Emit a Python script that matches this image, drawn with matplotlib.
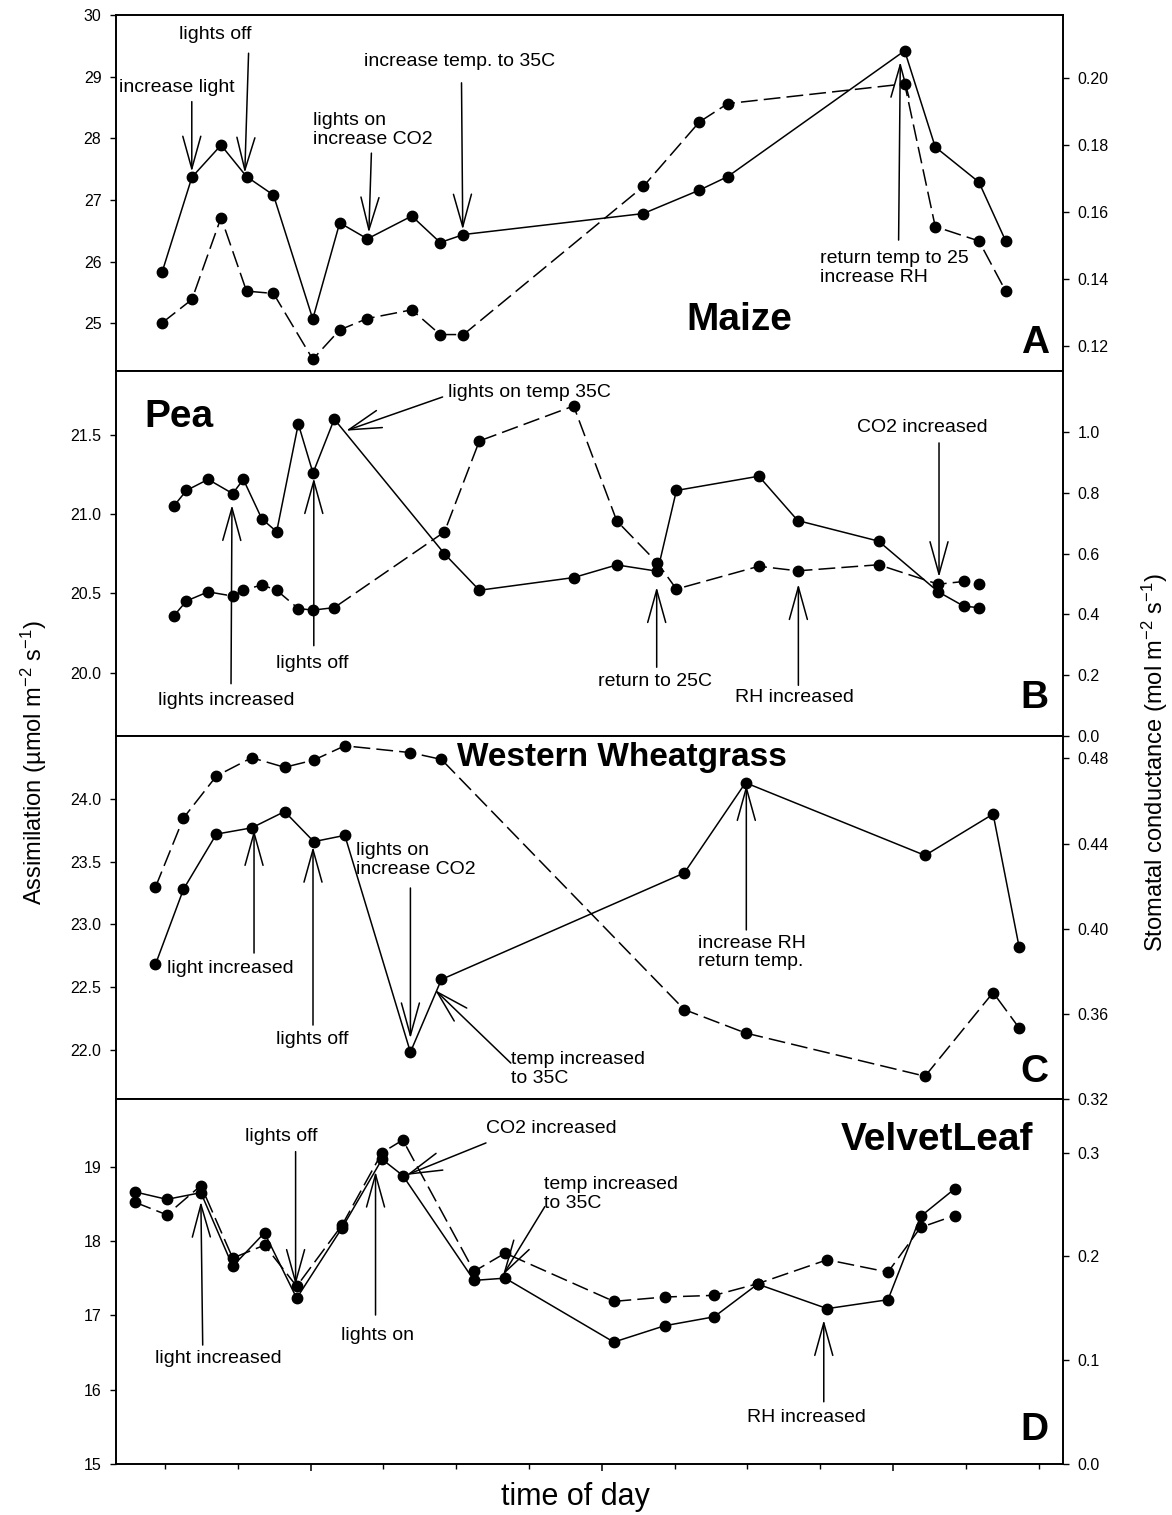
import matplotlib
matplotlib.use('Agg')
import matplotlib.pyplot as plt
from matplotlib.ticker import FixedLocator, NullFormatter, FormatStrFormatter

plt.rcParams['font.family'] = ['Liberation Sans', 'DejaVu Sans']
plt.rcParams['mathtext.fontset'] = 'custom'
plt.rcParams['mathtext.rm'] = 'Liberation Sans'
plt.rcParams['mathtext.it'] = 'Liberation Sans:italic'
plt.rcParams['mathtext.bf'] = 'Liberation Sans:bold'

# ---------------- data (time in arbitrary tick units) ----------------
time_A = [-0.04, 0.37, 0.77, 1.12, 1.49, 2.03, 2.40, 2.78, 3.39, 3.78, 4.10,
          6.57, 7.34, 7.73, 10.16, 10.58, 11.18, 11.55]
assim_A = [25.83, 27.37, 27.89, 27.38, 27.08, 25.07, 26.63, 26.37, 26.74, 26.31, 26.44,
           26.78, 27.16, 27.38, 29.42, 27.86, 27.29, 26.33]
cond_A = [0.1268, 0.1338, 0.1583, 0.1363, 0.1356, 0.1159, 0.1247, 0.1281, 0.1307, 0.1233, 0.1233,
          0.1676, 0.1869, 0.1924, 0.1983, 0.1556, 0.1513, 0.1362]

time_B = [0.118, 0.295, 0.592, 0.930, 1.076, 1.331, 1.534, 1.831, 2.033, 2.325, 3.839,
          4.318, 5.613, 6.206, 6.765, 7.025, 8.157, 8.691, 9.802, 10.622, 10.970, 11.177]
assim_B = [21.05, 21.15, 21.22, 21.13, 21.22, 20.97, 20.89, 21.57, 21.26, 21.60, 20.75,
           20.52, 20.60, 20.68, 20.64, 21.15, 21.24, 20.96, 20.83, 20.51, 20.42, 20.41]
cond_B = [0.394, 0.444, 0.474, 0.460, 0.479, 0.497, 0.479, 0.419, 0.414, 0.422, 0.671,
          0.970, 1.085, 0.707, 0.569, 0.483, 0.558, 0.543, 0.563, 0.499, 0.508, 0.499]

time_C = [-0.131, 0.254, 0.706, 1.191, 1.643, 2.044, 2.470, 3.371, 3.797,
          7.133, 7.974, 10.44, 11.375, 11.732]
assim_C = [22.68, 23.28, 23.72, 23.77, 23.90, 23.66, 23.71, 21.98, 22.56,
           23.41, 24.13, 23.55, 23.88, 22.82]
cond_C = [0.4195, 0.452, 0.4717, 0.4803, 0.4758, 0.4792, 0.4859, 0.4827, 0.4795,
          0.362, 0.351, 0.3307, 0.370, 0.3534]

time_D = [-0.412, 0.025, 0.493, 0.930, 1.367, 1.809, 2.434, 2.981, 3.267, 4.245, 4.672,
          6.165, 6.864, 7.544, 8.140, 9.096, 9.931, 10.378, 10.845]
assim_D = [18.66, 18.56, 18.65, 17.66, 18.11, 17.23, 18.18, 19.10, 18.88, 17.47, 17.50,
           16.64, 16.86, 16.98, 17.42, 17.09, 17.21, 18.33, 18.70]
cond_D = [0.2522, 0.2401, 0.2683, 0.1984, 0.2109, 0.1712, 0.2304, 0.300, 0.3122, 0.1856, 0.2032,
          0.1567, 0.1609, 0.1625, 0.1737, 0.1968, 0.1849, 0.2279, 0.2394]

# tick values and labels
left_ticks_A = [25, 26, 27, 28, 29, 30]
left_ticks_B = [20.0, 20.5, 21.0, 21.5]
left_ticks_C = [22.0, 22.5, 23.0, 23.5, 24.0]
left_ticks_D = [15, 16, 17, 18, 19]
right_ticks_A = [0.12, 0.14, 0.16, 0.18, 0.20]
right_ticks_B = [0.0, 0.2, 0.4, 0.6, 0.8, 1.0]
right_ticks_C = [0.32, 0.36, 0.40, 0.44, 0.48]
right_ticks_D = [0.0, 0.1, 0.2, 0.3]
x_minor_ticks = list(range(0, 13))
x_major_ticks = [2, 6, 10]

titles = ["Maize", "Pea", "Western Wheatgrass", "VelvetLeaf"]
letters = ["A", "B", "C", "D"]

# annotations: (text, tx, ty, ha, tail_x, tail_y, tip_x, tip_y) in left-axis data coords
annot_A = [
    ("increase light", 0.165, 28.82, 'center', 0.368, 28.595, 0.368, 27.46),
    ("lights off", 0.687, 29.68, 'center', 1.148, 29.38, 1.096, 27.44),
    ("lights on\nincrease CO2", 2.03, 28.14, 'left', 2.835, 27.76, 2.80, 26.47),
    ("increase temp. to 35C", 4.05, 29.24, 'center', 4.073, 28.90, 4.09, 26.52),
    ("return temp to 25\nincrease RH", 9.0, 25.90, 'left', 10.077, 26.35, 10.10, 29.24),
]
annot_B = [
    ("lights on temp 35C", 3.887, 21.77, 'left', 3.813, 21.74, 2.486, 21.527),
    ("lights increased", 0.848, 19.826, 'center', 0.907, 19.93, 0.92, 21.058),
    ("lights off", 2.019, 20.06, 'center', 2.044, 20.17, 2.044, 21.228),
    ("return to 25C", 6.724, 19.946, 'center', 6.754, 20.034, 6.754, 20.54),
    ("RH increased", 8.64, 19.845, 'center', 8.70, 19.92, 8.70, 20.559),
    ("CO2 increased", 10.40, 21.55, 'center', 10.632, 21.45, 10.632, 20.603),
]
annot_C = [
    ("light increased", 0.025, 22.651, 'left', 1.223, 22.771, 1.223, 23.753),
    ("lights off", 2.019, 22.077, 'center', 2.033, 22.196, 2.033, 23.619),
    ("lights on\nincrease CO2", 2.617, 23.513, 'left', 3.371, 23.29, 3.371, 22.09),
    ("temp increased\nto 35C", 4.75, 21.849, 'left', 4.75, 21.893, 3.709, 22.476),
    ("increase RH\nreturn temp.", 7.32, 22.775, 'left', 7.985, 22.955, 7.985, 24.112),
]
annot_D = [
    ("lights off", 1.602, 19.40, 'center', 1.794, 19.202, 1.794, 17.408),
    ("CO2 increased", 4.409, 19.507, 'left', 4.409, 19.319, 3.319, 18.888),
    ("temp increased\nto 35C", 5.206, 18.626, 'left', 5.217, 18.462, 4.643, 17.542),
    ("light increased", 0.728, 16.425, 'center', 0.518, 16.60, 0.493, 18.529),
    ("lights on", 2.918, 16.735, 'center', 2.892, 17.004, 2.892, 18.933),
    ("RH increased", 8.805, 15.631, 'center', 9.049, 15.837, 9.049, 16.937),
]

# ---------------- layout ----------------
W, H = 1172, 1515
fig = plt.figure(figsize=(W / 100, H / 100), dpi=100)
x_left_px, x_right_px = 116, 1063
panel_px = [(15, 371), (371, 736), (736, 1099), (1099, 1464)]
xlim = (-0.673, 12.335)

panels = [
    dict(t=time_A, a=assim_A, g=cond_A, ylim=(24.227, 30.0), y2lim=(0.1124, 0.2189),
         lt=left_ticks_A, lf='%d', rt=right_ticks_A, rf='%.2f', ann=annot_A,
         title=(7.89, 25.05, 'center', 28), letter_y=0.079),
    dict(t=time_B, a=assim_B, g=cond_B, ylim=(19.60, 21.904), y2lim=(0.0, 1.2),
         lt=left_ticks_B, lf='%.1f', rt=right_ticks_B, rf='%.1f', ann=annot_B,
         title=(-0.288, 21.614, 'left', 28), letter_y=0.104),
    dict(t=time_C, a=assim_C, g=cond_C, ylim=(21.606, 24.503), y2lim=(0.32, 0.4905),
         lt=left_ticks_C, lf='%.1f', rt=right_ticks_C, rf='%.2f', ann=annot_C,
         title=(6.277, 24.335, 'center', 24), letter_y=0.074),
    dict(t=time_D, a=assim_D, g=cond_D, ylim=(15.0, 19.91), y2lim=(0.0, 0.3517),
         lt=left_ticks_D, lf='%d', rt=right_ticks_D, rf='%.1f', ann=annot_D,
         title=(10.604, 19.359, 'center', 28), letter_y=0.093),
]

line_kw = dict(color='k', lw=1.1, marker='o', ms=7.5, mfc='k', mec='k')
arrow_kw = dict(arrowstyle='->,head_length=1.3,head_width=0.36', mutation_scale=18,
                lw=1.1, color='k', shrinkA=0, shrinkB=0)

for i, p in enumerate(panels):
    top, bot = panel_px[i]
    rect = [x_left_px / W, 1 - bot / H, (x_right_px - x_left_px) / W, (bot - top) / H]
    ax = fig.add_axes(rect)
    ax.plot(p['t'], p['a'], ls='-', zorder=3, **line_kw)
    ax2 = ax.twinx()
    ax2.plot(p['t'], p['g'], dashes=(11, 4), zorder=3, **line_kw)
    ax.set_xlim(*xlim)
    ax.set_ylim(*p['ylim'])
    ax2.set_ylim(*p['y2lim'])
    ax.set_yticks(p['lt'])
    ax.yaxis.set_major_formatter(FormatStrFormatter(p['lf']))
    ax2.set_yticks(p['rt'])
    ax2.yaxis.set_major_formatter(FormatStrFormatter(p['rf']))
    for a_ in (ax, ax2):
        a_.tick_params(axis='y', direction='out', length=4.5, width=1, labelsize=11.5, pad=6)
        for s in a_.spines.values():
            s.set_linewidth(1.2)
    if i < 3:
        ax.tick_params(axis='x', which='both', bottom=False, top=False, labelbottom=False)
    else:
        ax.xaxis.set_major_locator(FixedLocator(x_major_ticks))
        ax.xaxis.set_minor_locator(FixedLocator(x_minor_ticks))
        ax.xaxis.set_major_formatter(NullFormatter())
        ax.xaxis.set_minor_formatter(NullFormatter())
        ax.tick_params(axis='x', which='major', direction='out', length=5, width=1.1)
        ax.tick_params(axis='x', which='minor', direction='out', length=3.6, width=1)
    # annotations
    for (txt, tx, ty, ha, x0, y0, x1, y1) in p['ann']:
        ax.text(tx, ty, txt, ha=ha, va='center', fontsize=14, linespacing=1.15,
                multialignment='left', zorder=4)
        ax.annotate('', xy=(x1, y1), xytext=(x0, y0), arrowprops=arrow_kw, zorder=4)
    tx, ty, tha, tfs = p['title']
    ax.text(tx, ty, titles[i], ha=tha, va='center', fontsize=tfs, fontweight='bold', zorder=4)
    ax.text(0.985, p['letter_y'], letters[i], transform=ax.transAxes, ha='right', va='center',
            fontsize=28, fontweight='bold', zorder=4)

fig.text(34 / W, 1 - 763 / H, r'Assimilation (µmol m$^{-2}$ s$^{-1}$)', rotation=90,
         ha='center', va='center', fontsize=17)
fig.text(1155 / W, 1 - 763 / H, r'Stomatal conductance (mol m$^{-2}$ s$^{-1}$)', rotation=90,
         ha='center', va='center', fontsize=17)
fig.text(575 / W, 1 - 1497 / H, 'time of day', ha='center', va='center', fontsize=22)

fig.savefig('out.png', dpi=100)
